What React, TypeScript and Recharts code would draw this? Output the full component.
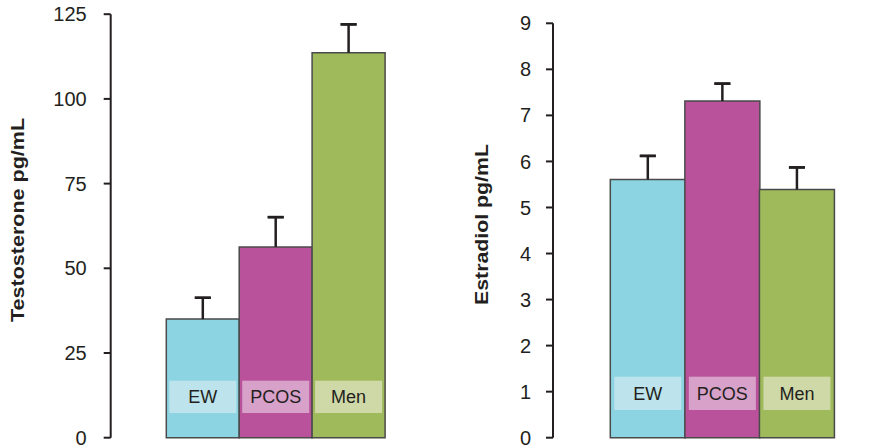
import React from 'react'
import { BarChart, Bar, XAxis, YAxis, Cell, ErrorBar, LabelList } from 'recharts'

const GROUPS = ['EW', 'PCOS', 'Men']

const TESTOSTERONE = [35, 56.3, 113.6]
const TESTOSTERONE_SEM = [6.3, 8.8, 8.4]
const TESTOSTERONE_TICKS = [0, 25, 50, 75, 100, 125]

const ESTRADIOL = [5.61, 7.31, 5.39]
const ESTRADIOL_SEM = [0.51, 0.38, 0.48]
const ESTRADIOL_TICKS = [0, 1, 2, 3, 4, 5, 6, 7, 8, 9]

const BAR_COLORS = ['#8cd4e1', '#b9529b', '#9fba5a']
const TAG_COLORS = ['#bde4ec', '#d8a1c9', '#cfd9a7']
const INK = '#231f20'
const FONT = 'Arial, "Liberation Sans", Helvetica, sans-serif'

interface PanelProps {
  title: string
  titleLength: number
  titleX: number
  values: number[]
  errors: number[]
  ticks: number[]
  width: number
  margin: { top: number; right: number; bottom: number; left: number }
  yAxisWidth: number
  tickMargin: number
  padding: { left: number; right: number }
  tagInset: number
  tagBottom: number
  tagHeight: number
}

const HEIGHT = 448

// rotated, bold y-axis title drawn relative to the axis box
function axisTitle(text: string, length: number, baselineX: number) {
  // eslint-disable-next-line @typescript-eslint/no-explicit-any
  return (props: any) => {
    const vb = props.viewBox
    if (!vb) return null
    const x = vb.x + baselineX
    const cy = vb.y + vb.height / 2 - 6
    return (
      <text
        x={x}
        y={cy}
        transform={`rotate(-90, ${x}, ${cy})`}
        textAnchor="middle"
        fontSize={18.5}
        fontWeight="bold"
        fontFamily={FONT}
        fill={INK}
        textLength={length}
        lengthAdjust="spacingAndGlyphs"
      >
        {text}
      </text>
    )
  }
}

// translucent name tag near the foot of each bar
function groupTag(inset: number, bottom: number, h: number) {
  // eslint-disable-next-line @typescript-eslint/no-explicit-any
  return (props: any) => {
    const { x, y, width, height, value, index } = props
    const base = Number(y) + Number(height)
    const top = base - bottom - h
    const left = Number(x) + inset
    const w = Number(width) - inset * 2
    return (
      <g>
        <rect x={left} y={top} width={w} height={h} fill={TAG_COLORS[index % TAG_COLORS.length]} />
        <text
          x={left + w / 2}
          y={top + h / 2}
          dy="0.36em"
          textAnchor="middle"
          fontSize={18}
          fontFamily={FONT}
          fill={INK}
        >
          {value}
        </text>
      </g>
    )
  }
}

function Panel({
  title,
  titleLength,
  titleX,
  values,
  errors,
  ticks,
  width,
  margin,
  yAxisWidth,
  tickMargin,
  padding,
  tagInset,
  tagBottom,
  tagHeight,
}: PanelProps) {
  // stem runs from the bar top upward; the cap pair collapses onto the upper end
  const data = GROUPS.map((group, i) => ({
    group,
    value: values[i],
    stem: [0, errors[i]],
    cap: [-errors[i], errors[i]],
  }))
  const top = ticks[ticks.length - 1]

  return (
    <BarChart
      width={width}
      height={HEIGHT}
      data={data}
      margin={margin}
      barCategoryGap={0}
      barGap={0}
    >
      <XAxis xAxisId="cat" dataKey="group" type="category" hide padding={padding} />
      <XAxis
        xAxisId="frame"
        type="number"
        domain={[0, 1]}
        ticks={[0, 1]}
        allowDataOverflow
        height={0}
        tickSize={7}
        tickFormatter={() => ''}
        axisLine={{ stroke: INK, strokeWidth: 2 }}
        tickLine={{ stroke: INK, strokeWidth: 2 }}
      />
      <YAxis
        type="number"
        domain={[0, top]}
        ticks={ticks}
        interval={0}
        width={yAxisWidth}
        tickSize={7}
        tickMargin={tickMargin}
        axisLine={{ stroke: INK, strokeWidth: 2 }}
        tickLine={{ stroke: INK, strokeWidth: 2 }}
        tick={{ fill: INK, fontSize: 20, fontFamily: FONT }}
        label={{ content: axisTitle(title, titleLength, titleX) }}
      />
      <Bar
        xAxisId="cat"
        dataKey="value"
        stroke="#4a4a4a"
        strokeWidth={1.5}
        isAnimationActive={false}
      >
        {data.map((_, i) => (
          <Cell key={`cell-${i}`} fill={BAR_COLORS[i % BAR_COLORS.length]} />
        ))}
        <ErrorBar
          dataKey="stem"
          direction="y"
          width={0}
          strokeWidth={2.5}
          stroke={INK}
          isAnimationActive={false}
        />
        <ErrorBar
          dataKey="cap"
          direction="y"
          width={8}
          strokeWidth={2.5}
          stroke={INK}
          isAnimationActive={false}
        />
        <LabelList dataKey="group" content={groupTag(tagInset, tagBottom, tagHeight)} />
      </Bar>
    </BarChart>
  )
}

export default function App() {
  return (
    <div
      style={{
        position: 'absolute',
        left: 0,
        top: 0,
        width: 887,
        height: HEIGHT,
        overflow: 'hidden',
        background: '#fff',
      }}
    >
      <div style={{ position: 'absolute', left: 0, top: 0 }}>
        <Panel
          title="Testosterone pg/mL"
          titleLength={204}
          titleX={24}
          values={TESTOSTERONE}
          errors={TESTOSTERONE_SEM}
          ticks={TESTOSTERONE_TICKS}
          width={460}
          margin={{ top: 14.2, right: 21.7, bottom: 10.3, left: 0 }}
          yAxisWidth={110.7}
          tickMargin={17}
          padding={{ left: 55.6, right: 53.3 }}
          tagInset={3}
          tagBottom={24.7}
          tagHeight={32.3}
        />
      </div>
      <div style={{ position: 'absolute', left: 460, top: 0 }}>
        <Panel
          title="Estradiol pg/mL"
          titleLength={161}
          titleX={28}
          values={ESTRADIOL}
          errors={ESTRADIOL_SEM}
          ticks={ESTRADIOL_TICKS}
          width={431}
          margin={{ top: 23.3, right: 0, bottom: 10.3, left: 0 }}
          yAxisWidth={93}
          tickMargin={15}
          padding={{ left: 57.3, right: 57 }}
          tagInset={4}
          tagBottom={27.7}
          tagHeight={33.3}
        />
      </div>
    </div>
  )
}
